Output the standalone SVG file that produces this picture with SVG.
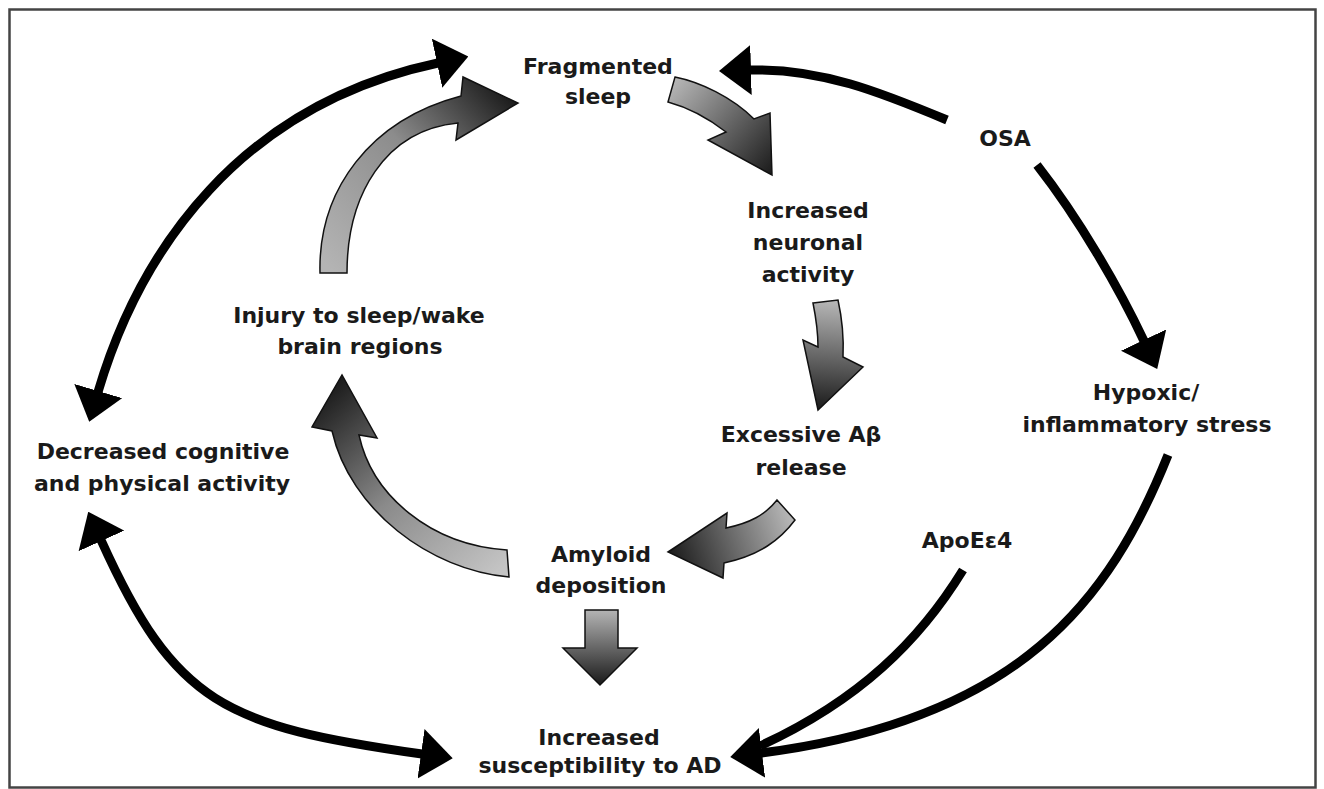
<svg xmlns="http://www.w3.org/2000/svg" width="1324" height="789" viewBox="0 0 1324 789">
  <style>
    .lbl { font-family: "DejaVu Sans", "Liberation Sans", sans-serif; font-weight: bold; font-size: 22px; fill: #1a1a1a; text-anchor: middle; }
    .conn { fill: none; stroke: #000; stroke-width: 9; stroke-linecap: butt; }
    .blk { stroke: #111; stroke-width: 1.5; stroke-linejoin: miter; }
  </style>
  <defs>
    <marker id="ah" viewBox="0 -25 32 50" refX="1" refY="0" markerWidth="32" markerHeight="50" markerUnits="userSpaceOnUse" orient="auto-start-reverse">
      <path d="M0,-25 L32,0 L0,25 Z" fill="#000"/>
    </marker>
    <linearGradient id="gA" gradientUnits="userSpaceOnUse" x1="333" y1="273" x2="518" y2="103">
      <stop offset="0" stop-color="#b4b4b4"/><stop offset="0.55" stop-color="#8c8c8c"/><stop offset="1" stop-color="#1a1a1a"/>
    </linearGradient>
    <linearGradient id="gB" gradientUnits="userSpaceOnUse" x1="670" y1="88" x2="772" y2="175">
      <stop offset="0" stop-color="#b4b4b4"/><stop offset="1" stop-color="#1a1a1a"/>
    </linearGradient>
    <linearGradient id="gC" gradientUnits="userSpaceOnUse" x1="826" y1="302" x2="818" y2="410">
      <stop offset="0" stop-color="#b4b4b4"/><stop offset="1" stop-color="#1a1a1a"/>
    </linearGradient>
    <linearGradient id="gD" gradientUnits="userSpaceOnUse" x1="786" y1="510" x2="668" y2="552">
      <stop offset="0" stop-color="#b4b4b4"/><stop offset="1" stop-color="#1a1a1a"/>
    </linearGradient>
    <linearGradient id="gE" gradientUnits="userSpaceOnUse" x1="508" y1="563" x2="342" y2="375">
      <stop offset="0" stop-color="#c4c4c4"/><stop offset="0.5" stop-color="#8a8a8a"/><stop offset="1" stop-color="#1a1a1a"/>
    </linearGradient>
    <linearGradient id="gF" gradientUnits="userSpaceOnUse" x1="600" y1="610" x2="600" y2="685">
      <stop offset="0" stop-color="#b4b4b4"/><stop offset="1" stop-color="#1a1a1a"/>
    </linearGradient>
  </defs>

  <rect x="0" y="0" width="1324" height="789" fill="#fff"/>
  <rect x="9.5" y="9.5" width="1306" height="778" fill="none" stroke="#444" stroke-width="2.5"/>

  <g id="connectors">
    <!-- black connectors -->
    <path class="conn" d="M 98,392 C 140,250 240,105 438,63" marker-start="url(#ah)" marker-end="url(#ah)"/>
    <path class="conn" d="M 101,540 C 175,704 224,726 422,754" marker-start="url(#ah)" marker-end="url(#ah)"/>
    <path class="conn" d="M 947,120 C 880,92 820,68 750,70" marker-end="url(#ah)"/>
    <path class="conn" d="M 1037,165 C 1080,220 1120,290 1144,341" marker-end="url(#ah)"/>
    <path class="conn" d="M 963,570 C 920,640 860,700 760,746"/>
    <path class="conn" d="M 1168,455 C 1110,600 1020,720 761,753" marker-end="url(#ah)"/>

    <!-- block (cycle) arrows -->
    <path id="arrow-injury-sleep" class="blk" fill="url(#gA)" d="M 320,273 C 318,190 370,120 461,96 L 463,77 L 518,103 L 456,140 L 458,123 C 385,130 347,195 347,273 Z"/>
    <path id="arrow-sleep-neuronal" class="blk" fill="url(#gB)" d="M 675,77 C 700,82 732,97 754,119 L 770,113 L 772,175 L 708,140 L 726,132 C 708,118 690,108 668,102 Z"/>
    <path id="arrow-neuronal-abeta" class="blk" fill="url(#gC)" d="M 813,303 L 838,300 C 842,318 844,335 843,357 L 863,367 L 818,410 L 803,340 L 818,347 C 818,330 816,318 813,303 Z"/>
    <path id="arrow-abeta-amyloid" class="blk" fill="url(#gD)" d="M 777,500 L 795,520 C 780,540 760,555 724,563 L 723,578 L 668,552 L 727,513 L 726,528 C 750,523 765,515 777,500 Z"/>
    <path id="arrow-amyloid-injury" class="blk" fill="url(#gE)" d="M 507,550 L 509,577 C 430,570 350,510 332,431 L 312,427 L 342,375 L 377,438 L 359,435 C 372,495 430,545 507,550 Z"/>
    <path id="arrow-amyloid-ad" class="blk" fill="url(#gF)" d="M 585,610 L 618,610 L 618,648 L 637,648 L 600,685 L 563,648 L 585,648 Z"/>
  </g>

  <g id="node-fragmented-sleep">
    <text class="lbl" x="598" y="74">Fragmented</text>
    <text class="lbl" x="598" y="104">sleep</text>
  </g>
  <g id="node-increased-neuronal">
    <text class="lbl" x="808" y="218">Increased</text>
    <text class="lbl" x="808" y="250">neuronal</text>
    <text class="lbl" x="808" y="282">activity</text>
  </g>
  <g id="node-excessive-abeta">
    <text class="lbl" x="801" y="442">Excessive Aβ</text>
    <text class="lbl" x="801" y="475">release</text>
  </g>
  <g id="node-amyloid">
    <text class="lbl" x="601" y="562">Amyloid</text>
    <text class="lbl" x="601" y="593">deposition</text>
  </g>
  <g id="node-injury">
    <text class="lbl" x="359" y="323">Injury to sleep/wake</text>
    <text class="lbl" x="360" y="354">brain regions</text>
  </g>
  <g id="node-decreased">
    <text class="lbl" x="163" y="459">Decreased cognitive</text>
    <text class="lbl" x="162" y="491">and physical activity</text>
  </g>
  <g id="node-ad">
    <text class="lbl" x="599" y="745">Increased</text>
    <text class="lbl" x="600" y="773">susceptibility to AD</text>
  </g>
  <g id="node-osa">
    <text class="lbl" x="1005" y="146">OSA</text>
  </g>
  <g id="node-hypoxic">
    <text class="lbl" x="1146" y="400">Hypoxic/</text>
    <text class="lbl" x="1147" y="432">inflammatory stress</text>
  </g>
  <g id="node-apoe">
    <text class="lbl" x="967" y="548">ApoEε4</text>
  </g>
</svg>
